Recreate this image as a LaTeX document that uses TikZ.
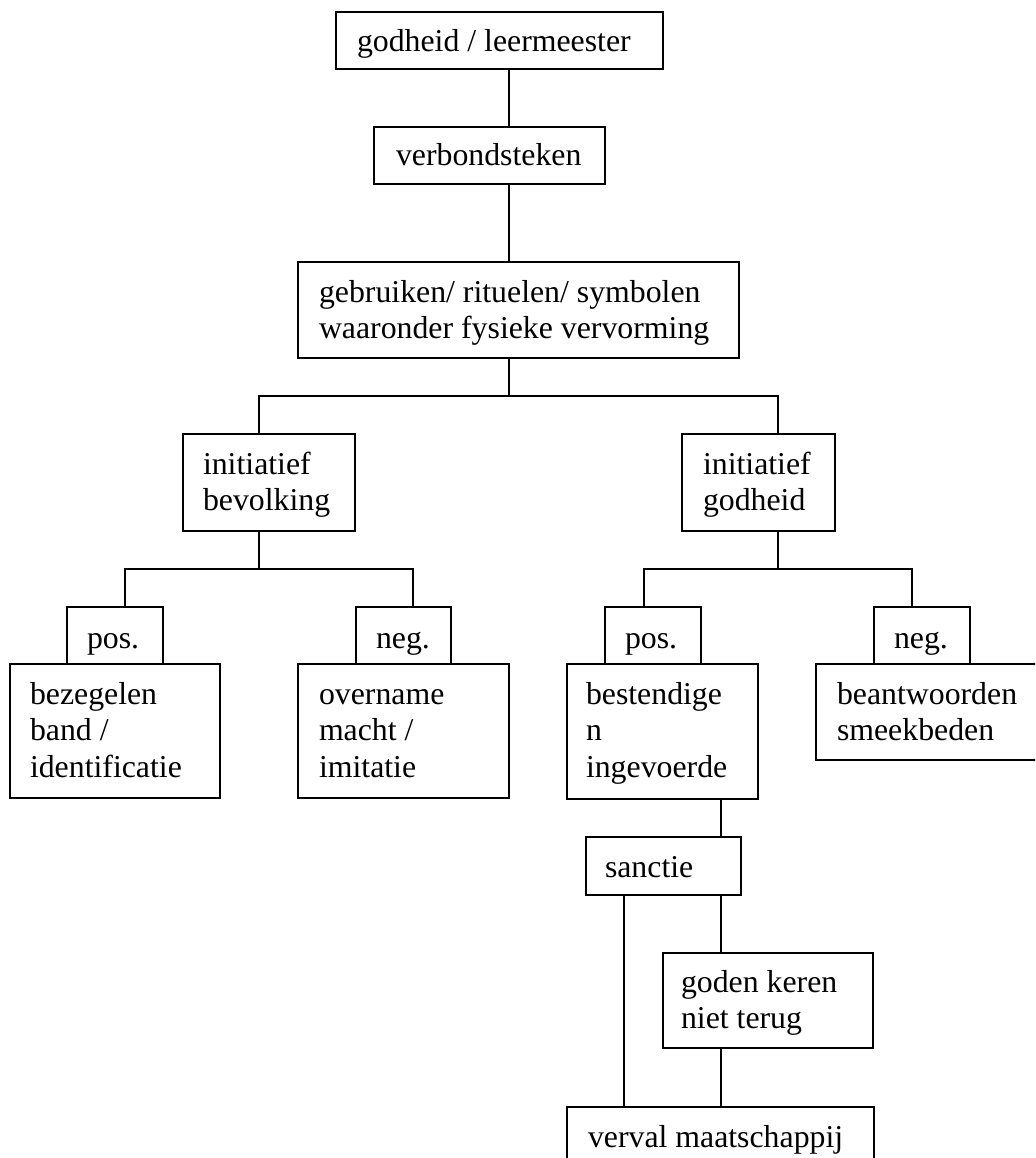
\documentclass[tikz,border=0pt]{standalone}
\usepackage{fontspec}
\setmainfont{Liberation Serif}
\tikzset{
  box/.style={draw=black, line width=1.3pt, inner sep=0pt, outer sep=0pt, rectangle},
  txt/.style={anchor=north west, inner sep=0pt, outer sep=0pt, align=left,
    font={\fontsize{31.8pt}{36.6pt}\selectfont}},
  conn/.style={line width=1.3pt, line join=miter}
}
\newcommand\mkbox[5]{\node[box,minimum width={#4-#2},minimum height={#5-#3}] (#1) at ({(#2+#4)/2},{(#3+#5)/2}) {};}
\newcommand\mktxt[4]{\node[txt] (#1) at (#2,{#3-30}) {\rule{0pt}{30pt}#4};}
\begin{document}
\begin{tikzpicture}[x=1pt,y=-1pt]
\path[use as bounding box, clip] (0,0) rectangle (1035,1158);
\fill[white] (0,0) rectangle (1035,1158);
% boxes
\mkbox{b1}{336}{12}{663}{69}
\mkbox{b2}{374}{127}{605}{184}
\mkbox{b3}{298}{262}{739}{358}
\mkbox{ib}{183}{434}{355}{531}
\mkbox{ig}{682}{434}{835}{531}
\mkbox{pL}{67}{607}{163}{664}
\mkbox{nL}{356}{607}{451}{664}
\mkbox{pR}{605}{607}{701}{664}
\mkbox{nR}{874}{607}{970}{664}
\mkbox{bez}{10}{664}{220}{798}
\mkbox{ove}{298}{664}{509}{798}
\mkbox{bes}{567}{664}{758}{799}
\mkbox{bea}{816}{664}{1060}{760}
\mkbox{san}{586}{837}{741}{895}
\mkbox{god}{663}{953}{873}{1048}
\mkbox{ver}{567}{1107}{874}{1175}
% texts
\mktxt{t1}{357}{52}{godheid / leermeester}
\mktxt{t2}{396}{166}{verbondsteken}
\mktxt{t3}{319}{302}{gebruiken/ rituelen/ symbolen\\waaronder fysieke vervorming}
\mktxt{tib}{203}{474}{initiatief\\bevolking}
\mktxt{tig}{703}{474}{initiatief\\godheid}
\mktxt{tpL}{87}{648}{pos.}
\mktxt{tnL}{376}{648}{neg.}
\mktxt{tpR}{625}{648}{pos.}
\mktxt{tnR}{894}{648}{neg.}
\mktxt{tbez}{30}{704}{bezegelen\\band /\\identificatie}
\mktxt{tove}{319}{704}{overname\\macht /\\imitatie}
\mktxt{tbes}{586}{704}{bestendige\\n\\ingevoerde}
\mktxt{tbea}{837}{704}{beantwoorden\\smeekbeden}
\mktxt{tsan}{605}{877}{sanctie}
\mktxt{tgod}{681}{992}{goden keren\\niet terug}
\mktxt{tver}{588}{1147}{verval maatschappij}
% connector coordinates
\coordinate (sp) at (509,0);
\coordinate (j1) at (509,396);
\coordinate (c1) at (259,396);
\coordinate (c2) at (778,396);
\coordinate (c3) at (259,569);
\coordinate (c4) at (125,569);
\coordinate (c5) at (413,569);
\coordinate (c6) at (778,569);
\coordinate (c7) at (644,569);
\coordinate (c8) at (912,569);
\coordinate (d1) at (721,0);
\coordinate (d2) at (624,0);
% connectors
\draw[conn] (b1.south -| sp) -- (b2.north -| sp);
\draw[conn] (b2.south -| sp) -- (b3.north -| sp);
\draw[conn] (b3.south -| j1) -- (j1);
\draw[conn] (ib.north -| c1) -- (c1) -- (c2) -- (ig.north -| c2);
\draw[conn] (ib.south -| c3) -- (c3);
\draw[conn] (pL.north -| c4) -- (c4) -- (c5) -- (nL.north -| c5);
\draw[conn] (ig.south -| c6) -- (c6);
\draw[conn] (pR.north -| c7) -- (c7) -- (c8) -- (nR.north -| c8);
\draw[conn] (bes.south -| d1) -- (san.north -| d1);
\draw[conn] (san.south -| d1) -- (god.north -| d1);
\draw[conn] (god.south -| d1) -- (ver.north -| d1);
\draw[conn] (san.south -| d2) -- (ver.north -| d2);
\end{tikzpicture}
\end{document}
